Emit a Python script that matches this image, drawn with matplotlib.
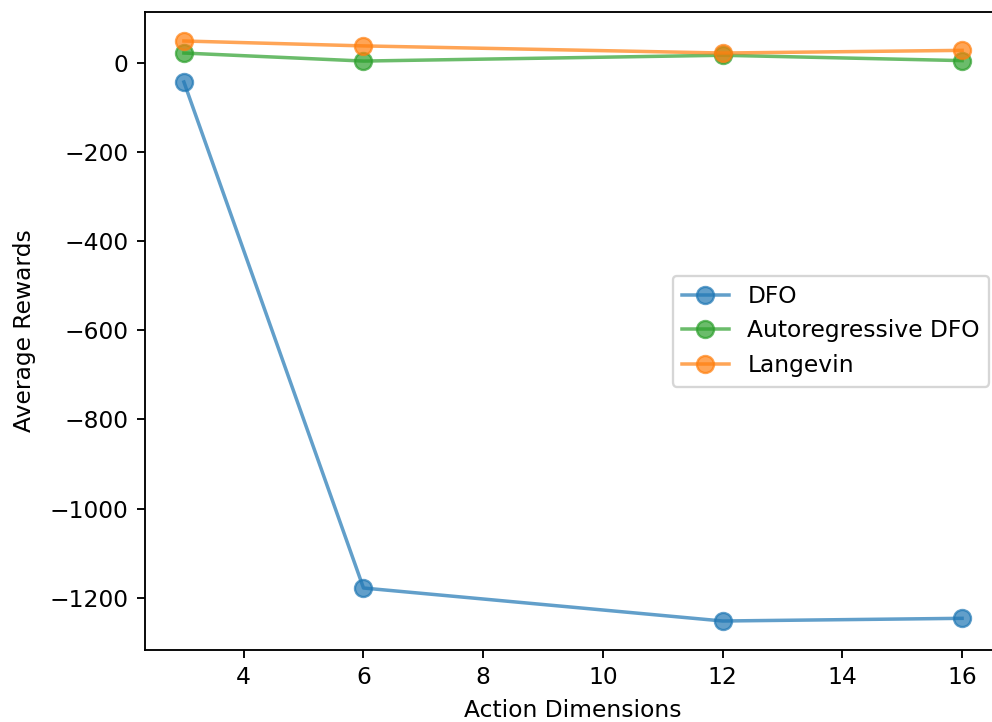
import matplotlib
matplotlib.use("Agg")
import matplotlib.pyplot as plt

action_dims = [3, 6, 12, 16]
dfo = [-43, -1178, -1252, -1246]
auto_dfo = [22, 4, 17, 5]
langevin = [49, 38, 22, 28]

DPI = 168
W, H = 992, 722
fig = plt.figure(figsize=(W / DPI, H / DPI), dpi=DPI)
ax = fig.add_axes([145 / W, 1 - 650 / H, (1001 - 145) / W, (650 - 12) / H])

ms = 7.3
ax.plot(action_dims, dfo, marker='o', markersize=ms, color='C0', alpha=0.7, label='DFO')
ax.plot(action_dims, auto_dfo, marker='o', markersize=ms, color='C2', alpha=0.7, label='Autoregressive DFO')
ax.plot(action_dims, langevin, marker='o', markersize=ms, color='C1', alpha=0.7, label='Langevin')

ax.set_xlabel('Action Dimensions')
ax.set_ylabel('Average Rewards', labelpad=5.8)
ax.legend(loc='center right')

fig.savefig('out.png', dpi=DPI)
